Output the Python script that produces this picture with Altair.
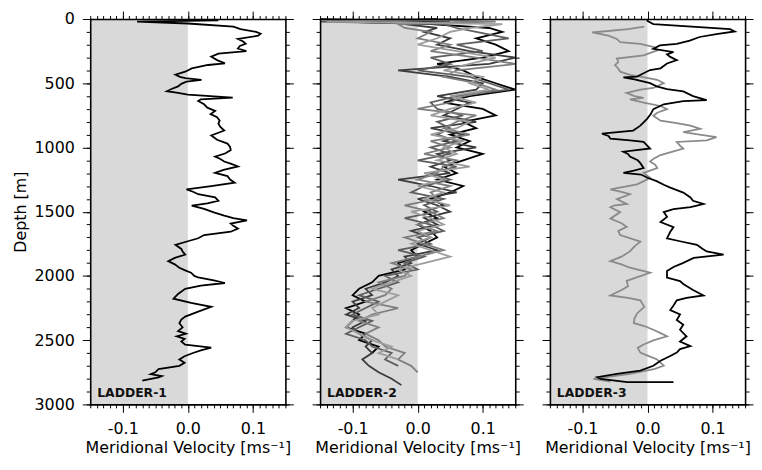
import altair as alt
import pandas as pd

# ---------------- data ----------------
# LADDER-1 : single profile (depth [m], meridional velocity [m/s])
L1_DEPTH = [10, 20, 35, 60, 78, 100, 115, 130, 155, 175, 193, 210, 230, 250, 270, 293, 320, 345, 358, 385,
            410, 434, 450, 460, 473, 488, 505, 525, 545, 562, 575, 588, 612, 625, 638, 664, 690, 715, 740, 765,
            791, 815, 840, 868, 906, 940, 970, 995, 1020, 1045, 1071, 1090, 1109, 1130, 1148, 1175, 1198, 1223,
            1250, 1274, 1300, 1326, 1345, 1364, 1389, 1415, 1435, 1453, 1478, 1505, 1530, 1550, 1567, 1592,
            1610, 1631, 1656, 1682, 1707, 1730, 1758, 1790, 1810, 1834, 1860, 1885, 1910, 1936, 1955, 1975,
            2000, 2012, 2035, 2055, 2075, 2100, 2140, 2177, 2210, 2240, 2280, 2317, 2340, 2368, 2400, 2430,
            2450, 2470, 2490, 2510, 2535, 2558, 2580, 2600, 2625, 2650, 2675, 2700, 2725, 2750, 2765, 2780,
            2790, 2815]
L1_VEL = [0.047, -0.078, 0.0, 0.07, 0.081, 0.105, 0.112, 0.108, 0.077, 0.085, 0.089, 0.08, 0.077, 0.09, 0.047,
          0.036, 0.045, 0.057, 0.031, 0.006, -0.004, -0.019, -0.012, -0.004, 0.021, -0.002, -0.01, -0.015,
          -0.025, -0.032, -0.015, 0.0, 0.069, 0.02, 0.016, 0.025, 0.03, 0.042, 0.035, 0.045, 0.049, 0.047,
          0.05, 0.056, 0.036, 0.045, 0.061, 0.065, 0.066, 0.058, 0.042, 0.05, 0.056, 0.068, 0.077, 0.055,
          0.042, 0.061, 0.065, 0.072, 0.036, -0.002, 0.008, 0.016, 0.042, 0.047, 0.03, 0.006, 0.025, 0.04,
          0.056, 0.07, 0.091, 0.066, 0.07, 0.077, 0.066, 0.025, 0.016, 0.0, -0.019, -0.01, -0.008, -0.004,
          -0.02, -0.03, -0.02, -0.013, -0.005, 0.005, 0.01, 0.016, 0.04, 0.057, 0.02, -0.004, -0.015, -0.022,
          0.005, 0.036, 0.015, -0.004, -0.01, -0.013, -0.008, -0.015, -0.003, -0.017, -0.005, -0.01, -0.004,
          0.036, 0.02, 0.008, -0.005, -0.013, -0.005, -0.013, -0.045, -0.05, -0.057, -0.04, -0.045, -0.07]

# LADDER-2 : several profiles on a common depth grid (None = no data)
L2_DEPTH = [0, 20, 40, 70, 100, 150, 200, 250, 300, 350, 400, 450, 500, 550, 600, 650, 700, 750, 800, 850,
            900, 950, 1000, 1050, 1100, 1150, 1200, 1250, 1300, 1350, 1400, 1450, 1500, 1550, 1600, 1650,
            1700, 1750, 1800, 1850, 1900, 1950, 2000, 2050, 2100, 2150, 2200, 2250, 2300, 2350, 2400, 2450,
            2500, 2550, 2600, 2650, 2700, 2750, 2800, 2850]
L2_A = [0.03, -0.12, 0.02, 0.11, 0.13, 0.09, 0.12, 0.14, 0.10, 0.03, 0.07, 0.09, 0.12, 0.15, 0.08, 0.04,
        0.10, 0.12, 0.07, 0.09, 0.05, 0.08, 0.06, 0.10, 0.07, 0.04, 0.06, 0.03, 0.07, 0.05, 0.02, 0.04,
        0.01, 0.03, 0.00, 0.02, 0.03, 0.01, -0.01, 0.00, -0.03, -0.02, -0.06, -0.07, -0.09, -0.10, -0.08,
        -0.11, -0.09, -0.10, -0.11, -0.08, -0.09, -0.06, -0.07, None, None, None, None, None]
L2_B = [-0.15, 0.05, -0.02, 0.03, 0.01, 0.05, 0.03, 0.08, 0.15, 0.11, -0.03, 0.05, 0.10, 0.09, 0.03, 0.08,
        0.06, 0.04, 0.09, 0.02, 0.07, 0.04, 0.09, 0.03, 0.05, 0.02, 0.05, -0.03, 0.02, 0.06, 0.00, 0.03,
        0.05, 0.01, 0.03, -0.01, 0.02, 0.00, 0.03, -0.02, -0.01, -0.04, -0.03, -0.05, -0.08, -0.07, -0.10,
        -0.09, -0.11, -0.08, -0.10, -0.09, -0.07, -0.08, -0.07, -0.085, -0.075, -0.06, -0.04, -0.025]
L2_C = [0.07, -0.15, 0.04, 0.06, 0.09, 0.14, 0.06, 0.10, 0.02, 0.05, 0.00, 0.08, 0.11, 0.14, 0.06, 0.02,
        0.03, 0.07, 0.03, 0.05, 0.03, 0.06, 0.02, 0.05, 0.00, 0.06, 0.02, 0.05, 0.01, -0.01, 0.04, 0.01,
        0.03, -0.02, 0.02, 0.04, 0.00, 0.02, -0.03, 0.01, -0.02, 0.00, -0.05, -0.03, -0.06, -0.09, -0.06,
        -0.08, -0.10, -0.07, -0.09, -0.11, -0.08, -0.07, -0.04, -0.05, -0.03, None, None, None]
L2_D = [-0.05, 0.12, -0.03, -0.02, 0.02, 0.00, 0.05, 0.02, 0.09, 0.15, 0.06, 0.04, 0.09, 0.12, 0.07, 0.05,
        0.00, 0.09, 0.06, 0.04, 0.08, 0.02, 0.05, 0.01, 0.06, 0.04, 0.03, 0.00, 0.05, 0.02, 0.03, -0.02,
        0.02, 0.04, 0.00, 0.03, -0.02, 0.01, 0.04, 0.00, -0.04, -0.01, -0.02, -0.06, -0.04, -0.05, -0.08,
        -0.03, -0.07, -0.09, -0.06, -0.08, -0.06, -0.05, -0.02, -0.03, -0.01, 0.0, None, None]
L2_E = [0.0, -0.14, 0.13, 0.08, 0.05, 0.03, 0.00, 0.06, 0.12, 0.08, 0.04, 0.10, 0.08, 0.11, 0.05, 0.09,
        0.05, 0.02, 0.08, 0.06, 0.02, 0.07, 0.04, 0.06, 0.03, 0.08, 0.01, 0.04, 0.00, 0.04, 0.01, 0.05,
        -0.01, 0.02, 0.04, 0.00, 0.02, -0.01, 0.02, 0.05, 0.01, -0.03, -0.01, -0.04, -0.07, -0.03, -0.05,
        -0.07, -0.06, -0.10, -0.11, -0.09, -0.07, -0.04, -0.06, -0.03, None, None, None, None]
L2_SERIES = ["L2-A", "L2-B", "L2-C", "L2-D", "L2-E"]

# LADDER-3 : two profiles
L3_BLACK_DEPTH = [0, 15, 40, 79, 97, 117, 140, 168, 193, 206, 232, 257, 275, 295, 320, 346, 384, 397, 422, 448,
                  455, 470, 499, 524, 545, 563, 600, 632, 639, 664, 702, 740, 779, 830, 868, 893, 910, 931, 944,
                  957, 1008, 1033, 1050, 1071, 1100, 1122, 1160, 1180, 1198, 1211, 1236, 1262, 1290, 1313, 1351,
                  1389, 1415, 1440, 1452, 1465, 1480, 1503, 1540, 1580, 1620, 1656, 1707, 1730, 1758, 1790,
                  1809, 1834, 1860, 1898, 1930, 1962, 2013, 2040, 2063, 2110, 2152, 2170, 2190, 2230, 2266,
                  2300, 2343, 2380, 2419, 2470, 2510, 2546, 2570, 2597, 2623, 2660, 2699, 2737, 2763, 2788,
                  2801, 2826, 2826]
L3_BLACK_VEL = [0.0, 0.0, 0.009, 0.127, 0.134, 0.106, 0.08, 0.065, 0.045, 0.019, 0.009, 0.04, 0.03, 0.035, 0.045,
                0.03, 0.02, 0.004, -0.006, -0.016, -0.037, -0.02, 0.004, 0.014, 0.03, 0.055, 0.07, 0.091,
                0.055, 0.025, 0.009, 0.005, -0.001, -0.011, -0.022, -0.07, -0.06, -0.057, -0.027, -0.006,
                0.004, -0.037, -0.03, -0.027, -0.015, -0.011, -0.006, -0.021, -0.037, -0.01, 0.0, 0.014,
                0.025, 0.035, 0.055, 0.066, 0.07, 0.086, 0.076, 0.066, 0.04, 0.025, 0.03, 0.02, 0.04, 0.035,
                0.03, 0.05, 0.076, 0.085, 0.091, 0.117, 0.071, 0.055, 0.04, 0.03, 0.03, 0.05, 0.055, 0.07,
                0.086, 0.06, 0.045, 0.04, 0.035, 0.05, 0.045, 0.055, 0.05, 0.06, 0.05, 0.066, 0.05, 0.045,
                0.035, 0.02, 0.009, -0.011, -0.047, -0.077, -0.072, -0.031, 0.04]
L3_GRAY_DEPTH = [60, 79, 105, 130, 155, 181, 193, 219, 244, 283, 308, 335, 359, 385, 410, 435, 448, 473, 499, 537,
                 550, 575, 600, 614, 626, 652, 677, 702, 730, 753, 791, 810, 830, 855, 881, 900, 919, 944, 957,
                 985, 1008, 1030, 1059, 1085, 1109, 1135, 1160, 1198, 1236, 1260, 1287, 1326, 1345, 1364, 1402,
                 1440, 1452, 1465, 1503, 1554, 1590, 1618, 1650, 1682, 1733, 1770, 1809, 1850, 1885, 1910,
                 1936, 1975, 2000, 2038, 2080, 2110, 2152, 2170, 2190, 2241, 2292, 2330, 2368, 2390, 2419,
                 2445, 2470, 2500, 2534, 2560, 2597, 2620, 2648, 2675, 2699, 2725, 2763, 2801, 2822]
L3_GRAY_VEL = [-0.005, -0.03, -0.085, -0.06, -0.047, -0.042, -0.011, 0.01, 0.015, -0.006, -0.047, -0.045, -0.05,
               -0.045, -0.042, -0.027, -0.011, 0.015, 0.025, 0.009, -0.011, -0.032, -0.02, -0.006, -0.027,
               -0.004, 0.02, 0.03, 0.015, 0.009, 0.02, 0.045, 0.066, 0.081, 0.055, 0.08, 0.106, 0.091, 0.045,
               0.05, 0.055, 0.04, 0.02, 0.01, 0.004, 0.012, 0.015, -0.006, 0.004, -0.005, -0.016, -0.057, -0.04,
               -0.027, -0.047, -0.032, -0.052, -0.057, -0.042, -0.057, -0.04, -0.032, -0.045, -0.042, -0.011,
               -0.02, -0.027, -0.04, -0.057, -0.04, -0.027, 0.004, -0.01, -0.032, -0.03, -0.04, -0.057, -0.03,
               -0.011, -0.005, -0.016, -0.02, -0.021, -0.005, 0.009, 0.02, 0.03, 0.01, -0.006, -0.015, -0.011,
               0.0, 0.014, 0.02, 0.025, 0.01, -0.027, -0.083, -0.057]

# one colour mapping shared by all panels
SERIES_NAMES = ["L1", "L2-A", "L2-B", "L2-C", "L2-D", "L2-E", "L3-gray", "L3-black"]
SERIES_COLORS = ["#000000", "#000000", "#3c3c3c", "#5e5e5e", "#7e7e7e", "#9c9c9c", "#8a8a8a", "#000000"]

PANEL_LABELS = ["LADDER-1", "LADDER-2", "LADDER-3"]
X_TICKS = [-0.1, 0.0, 0.1]
X_MINOR = [round(-0.15 + 0.01 * i, 2) for i in range(31)]
Y_TICKS = [0, 500, 1000, 1500, 2000, 2500, 3000]
Y_MINOR = list(range(0, 3001, 100))
SHADE_COLOR = "#d9d9d9"
FONT = "DejaVu Sans"
X_TITLE = "Meridional Velocity [ms\u207b\u00b9]"
Y_TITLE = "Depth [m]"
W, H = 197, 389


def series_frame(depths, values, name):
    rows = []
    for i, (d, v) in enumerate(zip(depths, values)):
        if v is not None:
            rows.append({"depth": d, "vel": v, "series": name, "idx": i})
    return pd.DataFrame(rows)


def panel(lines_df, label, first, width_line=1.8):
    xs = alt.Scale(domain=[-0.15, 0.15], nice=False, zero=False)
    ys = alt.Scale(domain=[0, 3000], reverse=True, nice=False, zero=False)
    shade = pd.DataFrame({"x": [-0.15], "x2": [0.0], "y": [0], "y2": [3000]})
    neg_fmt = "datum.value < 0 ? '-' + format(-datum.value, '.1f') : format(datum.value, '.1f')"

    ax_common = dict(grid=False, zindex=1, tickColor="black", tickWidth=1,
                     domainColor="black", domainWidth=1.6, domainCap="square")

    bottom_major = alt.Axis(orient="bottom", values=X_TICKS, labelExpr=neg_fmt, tickSize=8,
                            labelPadding=8, title=X_TITLE, titlePadding=4, domain=True, **ax_common)
    bottom_minor = alt.Axis(orient="bottom", values=X_MINOR, tickSize=3.5, labels=False,
                            title=None, domain=False, **ax_common)
    top_major = alt.Axis(orient="top", values=X_TICKS, tickSize=8, labels=False, title=None,
                         domain=True, **ax_common)
    top_minor = alt.Axis(orient="top", values=X_MINOR, tickSize=3.5, labels=False, title=None,
                         domain=False, **ax_common)
    if first:
        left_major = alt.Axis(orient="left", values=Y_TICKS, format="d", tickSize=8, labelPadding=8,
                              title=Y_TITLE, titlePadding=6, domain=True, **ax_common)
    else:
        left_major = alt.Axis(orient="left", values=Y_TICKS, tickSize=8, labels=False, title=None,
                              domain=True, **ax_common)
    left_minor = alt.Axis(orient="left", values=Y_MINOR, tickSize=4, labels=False, title=None,
                          domain=False, **ax_common)
    right_major = alt.Axis(orient="right", values=Y_TICKS, tickSize=8, labels=False, title=None,
                           domain=True, **ax_common)
    right_minor = alt.Axis(orient="right", values=Y_MINOR, tickSize=4, labels=False, title=None,
                           domain=False, **ax_common)

    rect = alt.Chart(shade).mark_rect(color=SHADE_COLOR).encode(
        x=alt.X("x:Q", scale=xs, axis=bottom_major), x2="x2:Q",
        y=alt.Y("y:Q", scale=ys, axis=left_major), y2="y2:Q")
    lines = alt.Chart(lines_df).mark_line(strokeWidth=width_line, strokeJoin="miter").encode(
        x=alt.X("vel:Q", scale=xs, axis=bottom_minor),
        y=alt.Y("depth:Q", scale=ys, axis=left_minor),
        color=alt.Color("series:N", scale=alt.Scale(domain=SERIES_NAMES, range=SERIES_COLORS),
                        legend=None),
        order=alt.Order("idx:Q"))
    inv1 = alt.Chart(shade).mark_rect(opacity=0).encode(
        x=alt.X("x:Q", scale=xs, axis=top_major), x2="x2:Q",
        y=alt.Y("y:Q", scale=ys, axis=right_major), y2="y2:Q")
    inv2 = alt.Chart(shade).mark_rect(opacity=0).encode(
        x=alt.X("x:Q", scale=xs, axis=top_minor), x2="x2:Q",
        y=alt.Y("y:Q", scale=ys, axis=right_minor), y2="y2:Q")
    txt = alt.Chart(pd.DataFrame({"t": [label]})).mark_text(
        align="left", baseline="alphabetic", font=FONT, fontSize=12.5, fontWeight="bold", color="#111111"
    ).encode(text="t:N", x=alt.value(7), y=alt.value(H - 7))

    return alt.layer(rect, lines, inv1, inv2, txt).resolve_axis(
        x="independent", y="independent").properties(width=W, height=H)


df1 = series_frame(L1_DEPTH, L1_VEL, "L1")
df2 = pd.concat([series_frame(L2_DEPTH, vals, n)
                 for vals, n in zip([L2_A, L2_B, L2_C, L2_D, L2_E], L2_SERIES)], ignore_index=True)
df3 = pd.concat([series_frame(L3_GRAY_DEPTH, L3_GRAY_VEL, "L3-gray"),
                 series_frame(L3_BLACK_DEPTH, L3_BLACK_VEL, "L3-black")], ignore_index=True)

p1 = panel(df1, PANEL_LABELS[0], True)
p2 = panel(df2, PANEL_LABELS[1], False)
p3 = panel(df3, PANEL_LABELS[2], False)

chart = alt.hconcat(p1, p2, p3, spacing=35, bounds="flush").properties(
    padding={"left": 4, "top": 0, "right": 0, "bottom": 0}
).configure(font=FONT).configure_view(stroke=None).configure_axis(
    labelFont=FONT, titleFont=FONT, labelFontSize=16, titleFontSize=16,
    labelColor="black", titleColor="black", titleFontWeight="normal"
)

chart.save("out.html", embed_options={"renderer": "svg", "actions": False})
